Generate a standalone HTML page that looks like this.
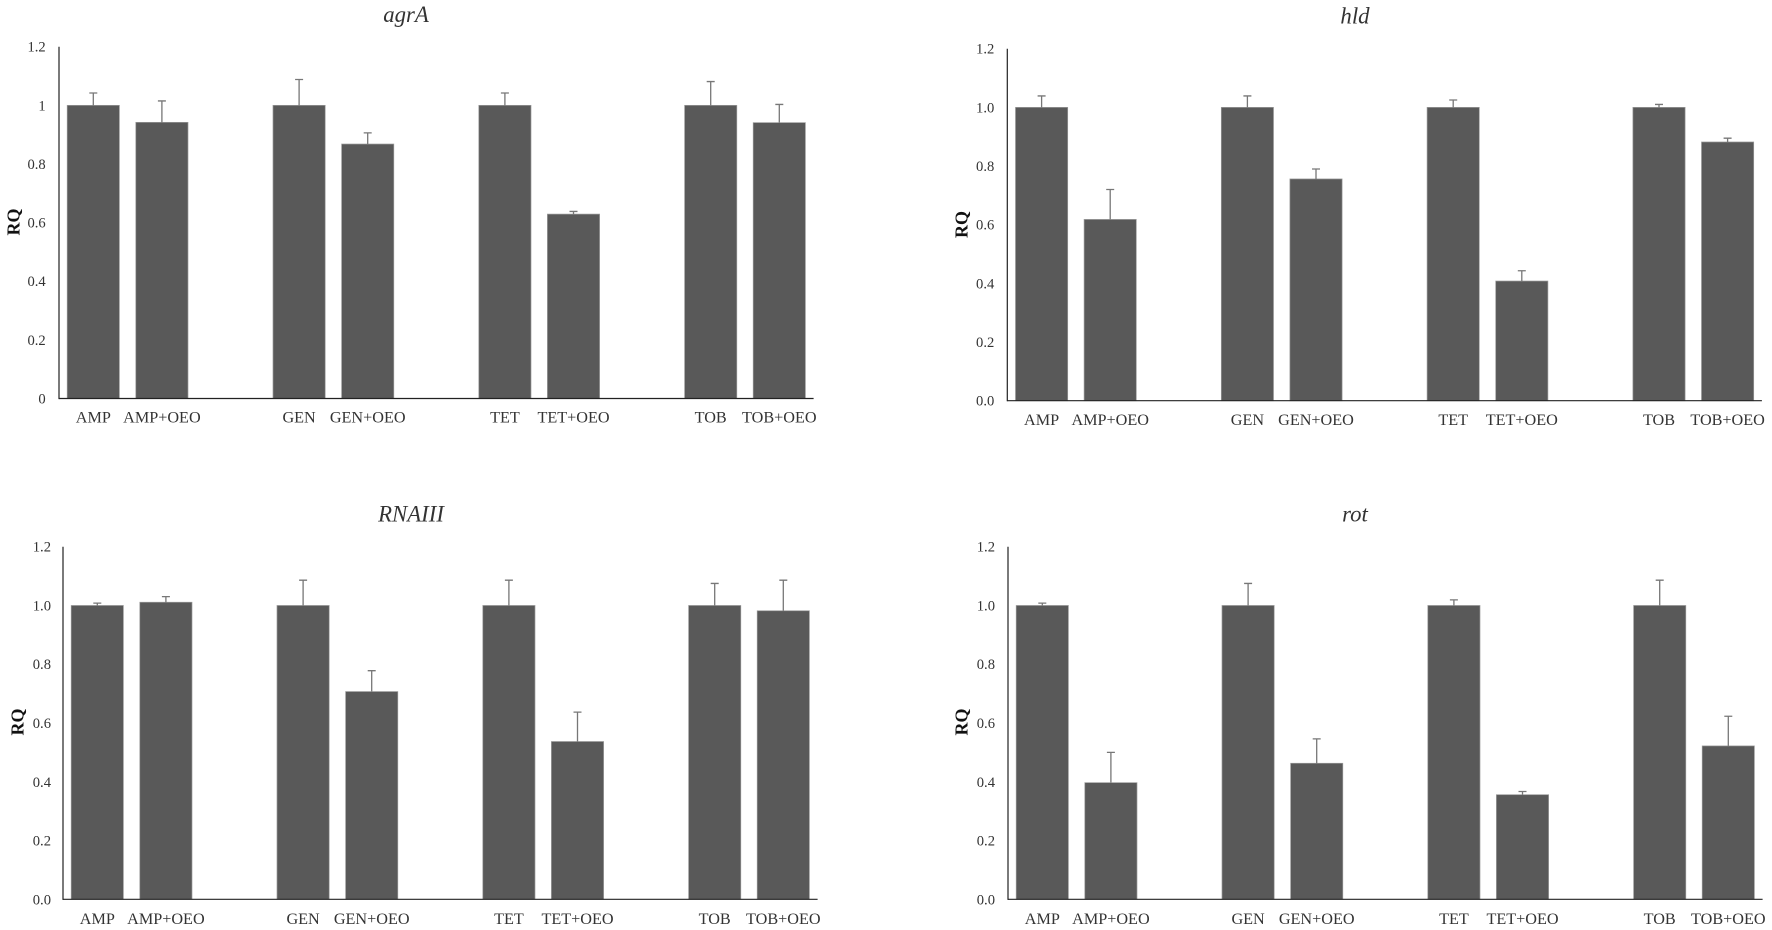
<!DOCTYPE html>
<html lang="en">
<head>
<meta charset="utf-8">
<title>RQ of agrA, hld, RNAIII and rot</title>
<style>
html,body{margin:0;padding:0;background:#fff;width:1772px;height:930px;overflow:hidden}
svg{display:block}
text{font-family:"Liberation Serif",serif;fill:#333}
.tick{font-size:14.6px;text-anchor:end}
.cat{font-size:16.2px;text-anchor:middle}
.title{font-size:22.8px;font-style:italic;text-anchor:middle}
.ytitle{font-size:18px;font-weight:bold;text-anchor:middle;fill:#111}
</style>
</head>
<body>
<svg id="chart" xmlns="http://www.w3.org/2000/svg" width="1772" height="930" viewBox="0 0 1772 930"></svg>
<script>
const categories = ['AMP','AMP+OEO','GEN','GEN+OEO','TET','TET+OEO','TOB','TOB+OEO'];
const tickValues = [0,0.2,0.4,0.6,0.8,1.0,1.2];
const tickLabelsPlain = ['0','0.2','0.4','0.6','0.8','1','1.2'];
const tickLabelsFixed = ['0.0','0.2','0.4','0.6','0.8','1.0','1.2'];

const agrAValues = [1.0,0.942,1.0,0.868,1.0,0.629,1.0,0.941];
const agrAErrorTops = [1.042,1.015,1.088,0.906,1.042,0.638,1.081,1.003];

const hldValues = [1.0,0.618,1.0,0.756,1.0,0.408,1.0,0.882];
const hldErrorTops = [1.039,0.72,1.039,0.79,1.025,0.443,1.01,0.895];

const rnaiiiValues = [1.0,1.011,1.0,0.707,1.0,0.537,1.0,0.982];
const rnaiiiErrorTops = [1.008,1.03,1.086,0.778,1.086,0.637,1.075,1.086];

const rotValues = [1.0,0.397,1.0,0.463,1.0,0.356,1.0,0.522];
const rotErrorTops = [1.008,0.5,1.075,0.546,1.019,0.367,1.086,0.623];

const NS = 'http://www.w3.org/2000/svg';
const root = document.getElementById('chart');
const SLOT = 68.6, SLOTS = 11, BAR_W = 52.2, CAP_W = 8, Y_MAX = 1.2;

function make(parent, tag, attrs, text) {
  const el = document.createElementNS(NS, tag);
  for (const k in attrs) el.setAttribute(k, attrs[k]);
  if (text !== undefined) el.textContent = text;
  parent.appendChild(el);
  return el;
}

function drawPanel(p) {
  const yScale = v => p.base - (v / Y_MAX) * (p.base - p.top);
  const xScale = i => p.axisX + (i + Math.floor(i / 2) + 0.5) * SLOT;

  const g = make(root, 'g', {});
  
  

  const title = make(g, 'text', {class:'title', x:p.titleX, y:p.titleY}, p.title);
  
  

  const yTitle = make(g, 'text', {class:'ytitle', transform:'translate(' + p.yTitleX + ',' + p.yTitleY + ') rotate(-90)'}, 'RQ');
  
  

  tickValues.forEach((v, i) => {
    const t = make(g, 'text', {class:'tick', x:p.tickX, y:yScale(v) + 5}, p.tickLabels[i]);
    
    
  });

  categories.forEach((c, i) => {
    const cx = xScale(i);
    const bar = make(g, 'rect', {x:cx - BAR_W / 2, y:yScale(p.values[i]), width:BAR_W, height:p.base - yScale(p.values[i]), fill:'#595959', stroke:'#9a9a9a', 'stroke-width':0.7});
    
    

    const err = make(g, 'path', {d:'M' + cx + ' ' + yScale(p.values[i]) + 'V' + yScale(p.errorTops[i]) + 'M' + (cx - CAP_W / 2) + ' ' + yScale(p.errorTops[i]) + 'H' + (cx + CAP_W / 2), fill:'none', stroke:'#777', 'stroke-width':1.3});
    
    

    const lab = make(g, 'text', {class:'cat', x:cx, y:p.catY}, c);
    
    
  });

  const yAxis = make(g, 'line', {x1:p.axisX, x2:p.axisX, y1:p.top, y2:p.base + 0.6, stroke:'#222', 'stroke-width':1.2});
  
  

  const xAxis = make(g, 'line', {x1:p.axisX, x2:p.axisX + SLOTS * SLOT, y1:p.base, y2:p.base, stroke:'#222', 'stroke-width':1.2});
  
  
}

drawPanel({id:'agra', title:'agrA', values:agrAValues, errorTops:agrAErrorTops, tickLabels:tickLabelsPlain,
  axisX:59, top:46.7, base:398.5, tickX:45.7, catY:422.7, titleX:406, titleY:22, yTitleX:19.5, yTitleY:222});
drawPanel({id:'hld', title:'hld', values:hldValues, errorTops:hldErrorTops, tickLabels:tickLabelsFixed,
  axisX:1007.3, top:48.7, base:400.7, tickX:994.3, catY:425, titleX:1355, titleY:23.5, yTitleX:967.5, yTitleY:224.5});
drawPanel({id:'rnaiii', title:'RNAIII', values:rnaiiiValues, errorTops:rnaiiiErrorTops, tickLabels:tickLabelsFixed,
  axisX:63, top:546.7, base:899.3, tickX:51, catY:924, titleX:411, titleY:521.7, yTitleX:23.5, yTitleY:722});
drawPanel({id:'rot', title:'rot', values:rotValues, errorTops:rotErrorTops, tickLabels:tickLabelsFixed,
  axisX:1008, top:546.7, base:899.3, tickX:995, catY:924, titleX:1355, titleY:521.7, yTitleX:967.5, yTitleY:722});
</script>
</body>
</html>
